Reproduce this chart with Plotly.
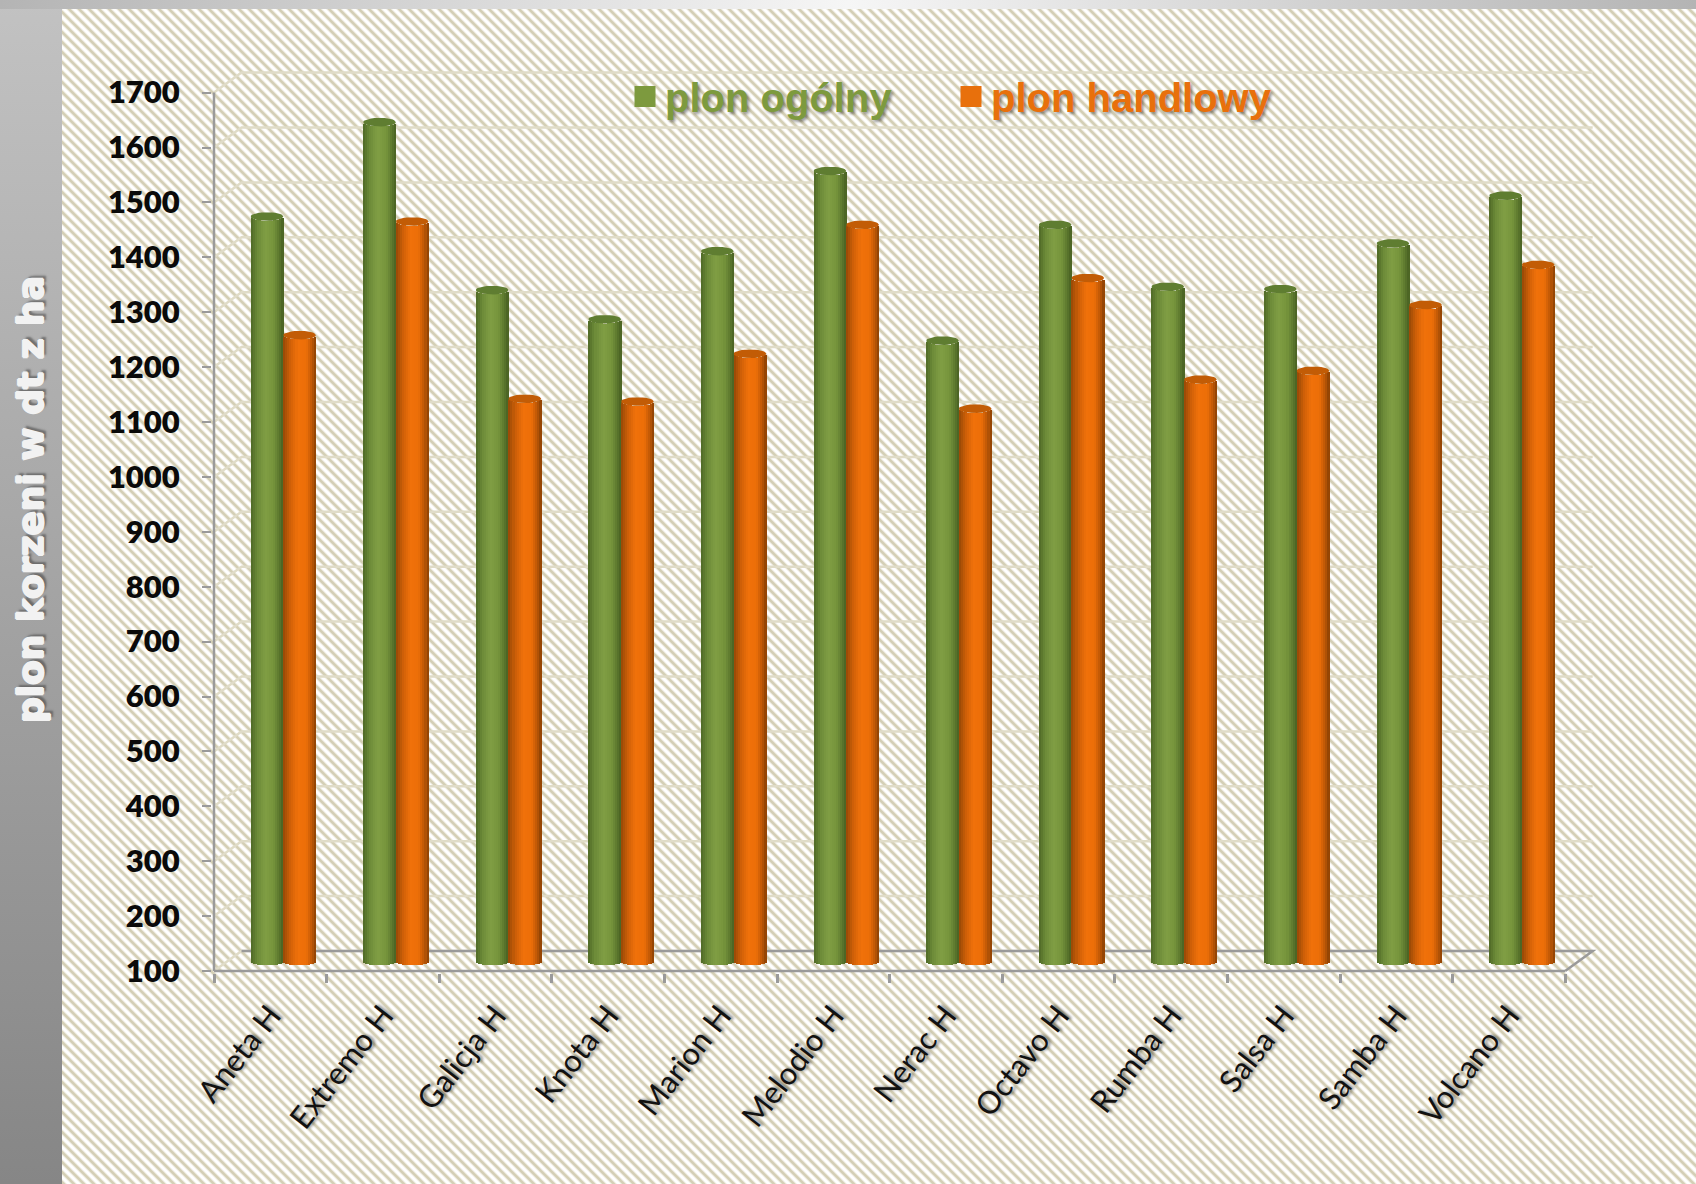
import base64, math
import plotly.graph_objects as go

categories = ["Aneta H", "Extremo H", "Galicja H", "Knota H", "Marion H", "Melodio H",
              "Nerac H", "Octavo H", "Rumba H", "Salsa H", "Samba H", "Volcano H"]
plon_ogolny = [1456, 1628, 1322, 1269, 1393, 1539, 1230, 1441, 1328, 1324, 1407, 1494]
plon_handlowy = [1240, 1447, 1124, 1119, 1206, 1441, 1106, 1344, 1159, 1175, 1295, 1368]
y_ticks = list(range(100, 1800, 100))

W, H = 1696, 1184
PXX, PXY = 112.6, 0.549          # pixels per category / per yield unit
L, R, T, B = 212, 1597, 70, 973  # plot area in page pixels
xmin = -0.5 - 2 / PXX
xmax = xmin + (R - L) / PXX
ymin = 100 - 2 / PXY
ymax = ymin + (B - T) / PXY
DX, DY = 27.5 / PXX, 20 / PXY    # depth of the pseudo 3-D box
DEPTH = 10 / PXY                 # bars stand half way in the box
BAR_HALF = 16.4 / PXX
ELL = 4.3 / PXY

svg = f'''<svg xmlns="http://www.w3.org/2000/svg" width="{W}" height="{H}" viewBox="0 0 {W} {H}">
<defs>
<linearGradient id="l" x1="0" y1="0" x2="0" y2="1"><stop offset="0" stop-color="#c2c2c2"/><stop offset="1" stop-color="#868686"/></linearGradient>
<linearGradient id="t" x1="0" y1="0" x2="1" y2="0"><stop offset="0" stop-color="#b4b4b4"/><stop offset="0.5" stop-color="#f6f6f6"/><stop offset="1" stop-color="#b4b4b4"/></linearGradient>
<pattern id="p" width="10" height="10" patternUnits="userSpaceOnUse">
<rect width="10" height="10" fill="#ffffff"/>
<path d="M0 0L10 10M-5 5L5 15M5 -5L15 5" stroke="#eeebdf" stroke-width="4.2" fill="none"/>
<path d="M0 0L10 10M-5 5L5 15M5 -5L15 5" stroke="#d4cfb5" stroke-width="2.3" fill="none"/>
</pattern>
</defs>
<rect width="{W}" height="{H}" fill="url(#l)"/>
<rect width="{W}" height="9" fill="url(#t)"/>
<rect x="62" y="9" width="{W-62}" height="{H-9}" fill="url(#p)"/>
</svg>'''
bg = "data:image/svg+xml;base64," + base64.b64encode(svg.encode()).decode()


def lerp(stops, t):
    for (a, ca), (b, cb) in zip(stops, stops[1:]):
        if a <= t <= b:
            f = (t - a) / (b - a)
            return "rgb(%d,%d,%d)" % tuple(round(ca[i] + (cb[i] - ca[i]) * f) for i in range(3))
    return "rgb(%d,%d,%d)" % stops[-1][1]


green_shade = [(-1, (78, 105, 38)), (-0.6, (108, 138, 56)), (-0.1, (128, 158, 68)),
               (0.4, (118, 148, 60)), (0.75, (92, 120, 46)), (1, (72, 96, 34))]
orange_shade = [(-1, (150, 72, 6)), (-0.55, (208, 96, 8)), (-0.1, (240, 113, 10)),
                (0.4, (236, 110, 8)), (0.75, (188, 87, 6)), (1, (138, 65, 4))]

fig = go.Figure()
N = 16
series = [("plon ogólny", plon_ogolny, -0.03, green_shade, "#5f7d31", "#7d9a3e"),
          ("plon handlowy", plon_handlowy, 0.26, orange_shade, "#c25c06", "#e8700c")]

for name, vals, shift, shade, top, legend_col in series:
    xs = [i + shift for i in range(len(categories))]
    for k in range(N):
        t = (k + 0.5) / N * 2 - 1
        arc = ELL * math.sqrt(max(0, 1 - t * t))
        fig.add_trace(go.Bar(
            x=xs, y=[v - 100 for v in vals], base=100 + DEPTH - arc,
            width=BAR_HALF * 2 / N + 0.004, offset=BAR_HALF * (t - 1 / N),
            marker=dict(color=lerp(shade, t), line=dict(width=0)),
            name=name, showlegend=False, hoverinfo="skip"))
    ex, ey = [], []
    for x, v in zip(xs, vals):
        for a in range(0, 361, 12):
            ex.append(x + BAR_HALF * math.cos(math.radians(a)))
            ey.append(v + DEPTH + ELL * math.sin(math.radians(a)))
        ex.append(None)
        ey.append(None)
    fig.add_trace(go.Scatter(x=ex, y=ey, mode="lines", fill="toself", fillcolor=top,
                             line=dict(width=0, color=top), showlegend=False, hoverinfo="skip"))
    fig.add_trace(go.Scatter(x=[None], y=[None], mode="markers", name=name,
                             marker=dict(symbol="square", size=16, color=legend_col,
                                         line=dict(width=5, color=legend_col))))

x0 = -0.5
x1 = len(categories) - 0.5
shapes = []
for v in y_ticks:
    shapes.append(dict(type="path", layer="below", xref="x", yref="y",
                       path=f"M{x0},{v} L{x0+DX},{v+DY} L{x1+DX},{v+DY}",
                       line=dict(color="#e0dcc8", width=2.5)))
gray = "#9a9a9a"
shapes.append(dict(type="path", layer="below", xref="x", yref="y",
                   path=f"M{x0+DX},{100+DY} L{x1+DX},{100+DY} L{x1},100",
                   line=dict(color=gray, width=2.5)))
shapes.append(dict(type="line", xref="x", yref="y", x0=x0, x1=x1, y0=100, y1=100,
                   line=dict(color=gray, width=2.5)))
shapes.append(dict(type="line", xref="x", yref="y", x0=x0, x1=x0, y0=100, y1=1700,
                   line=dict(color=gray, width=2.5)))

bold_shadow = ",".join(f"{a}px {b}px 0 #f2f2f2" for a, b in [(1, 0), (-1, 0), (0, 1), (0, -1)])

fig.update_layout(
    width=W, height=H, margin=dict(l=L, r=W - R, t=T, b=H - B, autoexpand=False),
    paper_bgcolor="white", plot_bgcolor="rgba(0,0,0,0)", barmode="overlay", bargap=0,
    images=[dict(source=bg, xref="paper", yref="paper", x=-L / (R - L), y=1 + T / (B - T),
                 sizex=W / (R - L), sizey=H / (B - T), xanchor="left", yanchor="top",
                 sizing="stretch", layer="below")],
    shapes=shapes,
    xaxis=dict(range=[xmin, xmax], showgrid=False, zeroline=False, showline=False,
               tickmode="array", tickvals=[i + 0.0 for i in range(len(categories))],
               ticktext=categories, ticks="", tickangle=-52,
               tickfont=dict(family="Lato", size=31, color="#111111",
                             shadow="2px 2px 3px rgba(0,0,0,0.45)"),
               ticklabelstandoff=17,
               minor=dict(tickmode="array", tickvals=[i - 0.5 for i in range(len(categories) + 1)],
                          ticks="outside", ticklen=9, tickwidth=2.5, tickcolor=gray)),
    yaxis=dict(range=[ymin, ymax], showgrid=False, zeroline=False, showline=False,
               tickmode="array", tickvals=y_ticks, ticks="outside", ticklen=9, tickwidth=2,
               tickcolor=gray, ticklabelstandoff=16,
               tickfont=dict(family="Lato", size=31, color="#0a0a0a", weight=800)),
    legend=dict(orientation="h", x=(625 - L) / (R - L), y=1 + (T - 64) / (B - T),
                xanchor="left", yanchor="top", bgcolor="rgba(0,0,0,0)", borderwidth=0,
                entrywidth=281, entrywidthmode="pixels", itemclick=False, itemdoubleclick=False,
                font=dict(family="Liberation Sans", size=40, weight=700, color="#7d9a3e",
                          shadow="2px 2px 3px rgba(0,0,0,0.4)")),
    annotations=[dict(text="plon korzeni w dt z ha", xref="paper", yref="paper",
                      x=-(L - 30) / (R - L), y=1 - (500 - T) / (B - T), textangle=-90,
                      showarrow=False, xanchor="center", yanchor="middle",
                      font=dict(family="DejaVu Sans", size=36, weight=700, color="#f2f2f2",
                                shadow=bold_shadow + ",3px 3px 2px rgba(70,70,70,0.6)"))],
    hovermode=False,
)
fig.write_html("out.html", config={"displayModeBar": False},
               post_script="document.body.style.margin='0';"
               "document.querySelectorAll('.legendtext')[1].style.fill='#e8700c';")
